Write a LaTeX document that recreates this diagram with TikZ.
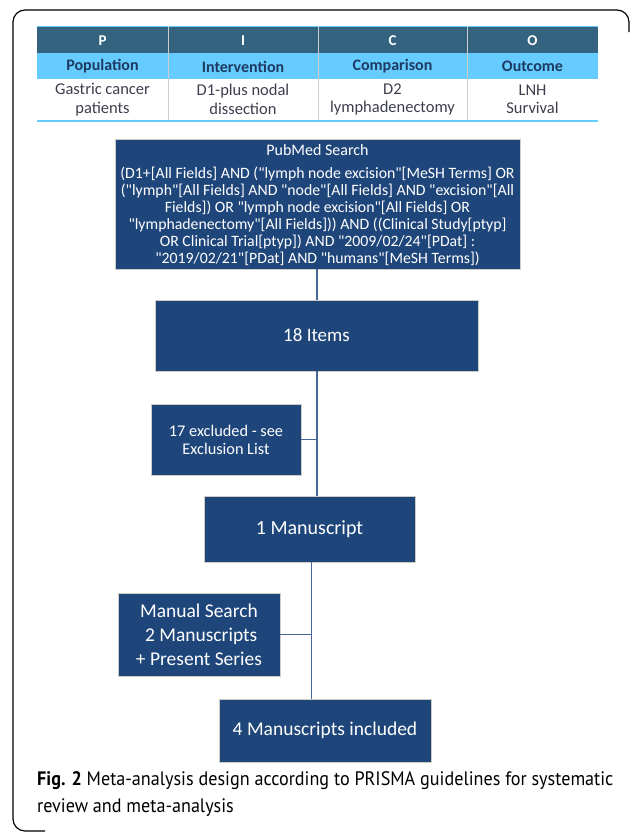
\documentclass[tikz,border=0pt]{standalone}
\usepackage{fontspec}
\setmainfont{Carlito}[Ligatures=TeXOff]
\newfontfamily\capfont[FakeStretch=0.93]{PT Sans}
\definecolor{boxblue}{RGB}{31,70,122}
\definecolor{boxedge}{RGB}{205,205,195}
\definecolor{connblue}{RGB}{72,102,150}
\definecolor{hdrdark}{RGB}{52,99,128}
\definecolor{hdrlight}{RGB}{102,204,255}
\definecolor{navytext}{RGB}{28,58,98}
\definecolor{celltext}{RGB}{60,62,78}
\tikzset{
  box/.style={draw=boxedge, line width=0.6pt, fill=boxblue, text=white, inner sep=0pt, align=center},
  conn/.style={draw=connblue, line width=1.2pt},
  hdr/.style={text=white, font=\fontsize{15}{17}\selectfont\bfseries, inner sep=0pt},
  sub/.style={text=navytext, font=\fontsize{16}{18}\selectfont\bfseries, inner sep=0pt},
  cell/.style={text=celltext, font=\fontsize{16.5}{18.5}\selectfont, align=center, inner sep=0pt},
}
\begin{document}
\begin{tikzpicture}[x=1pt,y=-1pt]
\useasboundingbox (0,0) rectangle (634,833);
% frame
\draw[line width=1.2pt, rounded corners=12pt] (629,32) -- (629,10) -- (13,10) -- (13,831) -- (45,831);
% table
\fill[hdrdark] (37,26) rectangle (598,53);
\fill[hdrlight] (37,53) rectangle (598,79);
\draw[hdrlight, line width=1pt] (37,26) -- (598,26);
\draw[hdrlight, line width=2pt] (37,121) -- (598,121);
\foreach \xx in {168,318,467} {
  \draw[black!20, line width=0.6pt] (\xx,26) -- (\xx,120);
}
\node[hdr] (tP) at (102.5,41) {P};
\node[hdr] (tI) at (243,41) {I};
\node[hdr] (tC) at (392.5,41) {C};
\node[hdr] (tO) at (532.5,41) {O};
\node[sub] (sP) at (102.5,66.5) {Population};
\node[sub] (sI) at (243,66.5) {Intervention};
\node[sub] (sC) at (392.5,66.5) {Comparison};
\node[sub] (sO) at (532.5,66.5) {Outcome};
\node[cell] (cP) at (102.5,99.5) {Gastric cancer\\patients};
\node[cell] (cI) at (243,99.5) {D1-plus nodal\\dissection};
\node[cell] (cC) at (392.5,99.5) {D2\\lymphadenectomy};
\node[cell] (cO) at (532.5,99.5) {LNH\\Survival};
% boxes
\node[box, minimum width=405pt, minimum height=130pt] (pubmed) at (317.5,204) {};
\node[text=white, font=\fontsize{16}{18}\selectfont, inner sep=0pt] (pmtitle) at (317.5,150) {PubMed Search};
\node[text=white, font=\fontsize{15.8}{17}\selectfont, align=center, inner sep=0pt] (pmquery) at (317.5,216.5) {(D1+[All Fields] AND ("lymph node excision"[MeSH Terms] OR\\("lymph"[All Fields] AND "node"[All Fields] AND "excision"[All\\Fields]) OR "lymph node excision"[All Fields] OR\\"lymphadenectomy"[All Fields])) AND ((Clinical Study[ptyp]\\OR Clinical Trial[ptyp]) AND "2009/02/24"[PDat] :\\"2019/02/21"[PDat] AND "humans"[MeSH Terms])};
\node[box, minimum width=323pt, minimum height=71pt, font=\fontsize{19}{21}\selectfont] (items) at (316.5,335.5) {18 Items};
\node[box, minimum width=150pt, minimum height=71pt, font=\fontsize{16.3}{18}\selectfont] (excl) at (226,439.5) {17 excluded - see\\Exclusion List};
\node[box, minimum width=211pt, minimum height=66pt, font=\fontsize{20}{22}\selectfont] (ms1) at (309.5,529) {1 Manuscript};
\node[box, minimum width=162pt, minimum height=83pt, font=\fontsize{19.5}{24}\selectfont] (manual) at (199,634.5) {Manual Search\\\ 2 Manuscripts\\+ Present Series};
\node[box, minimum width=212pt, minimum height=63pt, font=\fontsize{19.5}{22}\selectfont] (ms4) at (325,730.5) {4 Manuscripts included};
% connectors
\coordinate (j1) at (317,439.5);
\coordinate (j2) at (311.5,634.5);
\draw[conn] (pubmed.south -| j1) -- (items.north -| j1);
\draw[conn] (items.south -| j1) -- (ms1.north -| j1);
\draw[conn] (excl.east) -- (j1);
\draw[conn] (ms1.south -| j2) -- (ms4.north -| j2);
\draw[conn] (manual.east) -- (j2);
% caption
\node[anchor=west, align=left, inner sep=0pt, font=\capfont\fontsize{19.5}{27}\selectfont] (cap) at (37,794) {{\bfseries Fig. 2} Meta-analysis design according to PRISMA guidelines for systematic\\review and meta-analysis};
\end{tikzpicture}
\end{document}
